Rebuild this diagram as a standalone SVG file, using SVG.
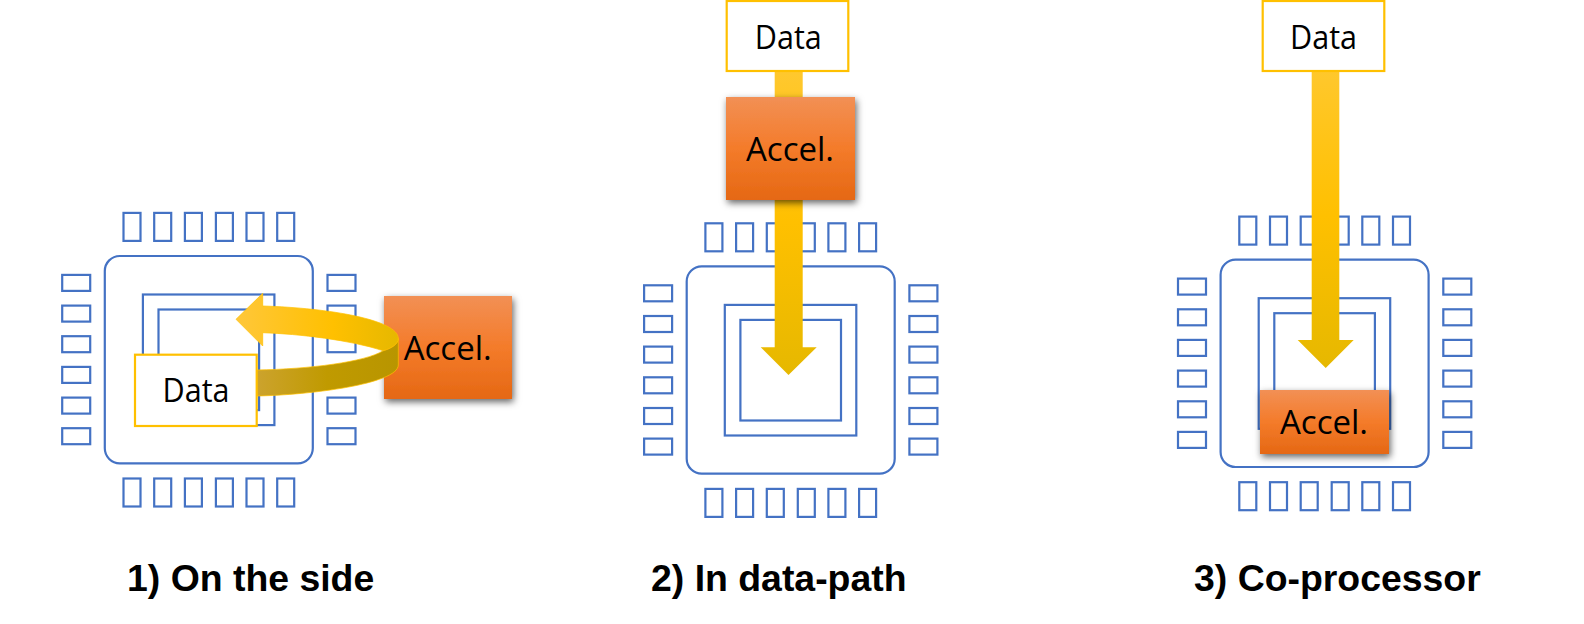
<svg xmlns="http://www.w3.org/2000/svg" xmlns:xlink="http://www.w3.org/1999/xlink" width="1584" height="624" viewBox="0 0 1584 624">
<style>
.l{fill:none;stroke:#4472C4;stroke-width:2.2}
.d{fill:#fff;stroke:#FFC000;stroke-width:2.2}
.a{fill:url(#acc);filter:url(#sh)}
.t{font-family:"Open Sans","Noto Sans",sans-serif;font-size:33px;fill:#000;text-anchor:middle}
.c{font-family:"Liberation Sans",Arial,sans-serif;font-weight:bold;font-size:37.4px;fill:#000}
</style>
<defs>
<linearGradient id="acc" x1="0" y1="0" x2="0" y2="1"><stop offset="0" stop-color="#F29055"/><stop offset=".5" stop-color="#F47B2A"/><stop offset="1" stop-color="#E56814"/></linearGradient>
<linearGradient id="dn2" gradientUnits="userSpaceOnUse" x1="0" y1="71" x2="0" y2="375"><stop offset="0" stop-color="#FFC82E"/><stop offset=".5" stop-color="#FFC000"/><stop offset="1" stop-color="#E6B800"/></linearGradient>
<linearGradient id="up" gradientUnits="userSpaceOnUse" x1="236" y1="0" x2="398" y2="0"><stop offset="0" stop-color="#FFC73A"/><stop offset=".6" stop-color="#FFC000"/><stop offset="1" stop-color="#E6B800"/></linearGradient>
<linearGradient id="lo" gradientUnits="userSpaceOnUse" x1="256" y1="0" x2="398" y2="0"><stop offset="0" stop-color="#CCA32E"/><stop offset=".5" stop-color="#C09A00"/><stop offset="1" stop-color="#B89500"/></linearGradient>
<filter id="sh" x="-20%" y="-20%" width="140%" height="140%"><feDropShadow dx="1.5" dy="3" stdDeviation="3.5" flood-color="#000" flood-opacity=".6"/></filter>
<g id="chip">
<rect class="l" x="104.8" y="256" width="208" height="207.3" rx="15"/>
<rect class="l" x="142.9" y="294.5" width="131.5" height="130.6"/>
<rect class="l" x="158.5" y="309.5" width="100.6" height="100.6"/>
<g id="pt"><rect class="l" x="123.5" y="212.9" width="17" height="28"/><rect class="l" x="154.2" y="212.9" width="17" height="28"/><rect class="l" x="184.9" y="212.9" width="17" height="28"/><rect class="l" x="215.9" y="212.9" width="17" height="28"/><rect class="l" x="246.5" y="212.9" width="17" height="28"/><rect class="l" x="277.2" y="212.9" width="17" height="28"/></g>
<use href="#pt" y="265.6"/>
<g id="pl"><rect class="l" x="62.2" y="274.9" width="28" height="16"/><rect class="l" x="62.2" y="305.6" width="28" height="16"/><rect class="l" x="62.2" y="336.2" width="28" height="16"/><rect class="l" x="62.2" y="366.9" width="28" height="16"/><rect class="l" x="62.2" y="397.6" width="28" height="16"/><rect class="l" x="62.2" y="428.2" width="28" height="16"/></g>
<use href="#pl" x="265.3"/>
</g>
</defs>
<rect width="1584" height="624" fill="#fff"/>
<g id="chip1"><use href="#chip"/></g>
<g id="chip2"><use href="#chip" x="581.9" y="10.4"/></g>
<g id="chip3"><use href="#chip" x="1115.8" y="3.7"/></g>
<g id="accel1"><rect class="a" x="384" y="296" width="128" height="103"/><text class="t" x="447.7" y="360">Accel.</text></g>
<g id="connectors">
<path d="M256.7,370 C310,369 365,362 383.3,350.7 C392,348 398.3,344 398.3,338.3 V365 C398,384 310,395 256.7,396 Z" fill="url(#lo)" stroke="#FFC000" stroke-width=".7"/>
<path d="M236,319.3 L262.7,293.3 V306 C330,308 398,320 398.3,338.3 C398.3,344 392,348 383.3,350.7 C350,340 300,334 262.7,332.7 V346 Z" fill="url(#up)" stroke="#FFC000" stroke-width=".7"/>
<path d="M774.7,71 H802.7 V347.3 H816.7 L788.5,375 L760.7,347.3 H774.7 Z" fill="url(#dn2)"/>
<path transform="translate(537,-7)" d="M774.7,71 H802.3 V347 H816.7 L788.7,375 L760.7,347 H774.7 Z" fill="url(#dn2)"/>
</g>
<g id="data1"><rect class="d" x="135" y="354.7" width="121.7" height="71.3"/><text class="t" x="196" y="401.7" textLength="67" lengthAdjust="spacingAndGlyphs">Data</text></g>
<g id="data2"><rect class="d" x="726.7" y="1" width="121.6" height="70"/><text class="t" x="788.3" y="49" textLength="67" lengthAdjust="spacingAndGlyphs">Data</text></g>
<g id="data3"><rect class="d" x="1262.7" y="1" width="121.6" height="70"/><text class="t" x="1323.5" y="49" textLength="67" lengthAdjust="spacingAndGlyphs">Data</text></g>
<g id="accel2"><rect class="a" x="726" y="97" width="129" height="103"/><text class="t" x="790" y="161">Accel.</text></g>
<g id="accel3"><rect class="a" x="1260" y="390" width="129" height="64"/><text class="t" x="1324" y="434">Accel.</text></g>
<text class="c" x="127" y="590.7">1) On the side</text>
<text class="c" x="651" y="591">2) In data-path</text>
<text class="c" x="1194" y="590.7">3) Co-processor</text>
</svg>
